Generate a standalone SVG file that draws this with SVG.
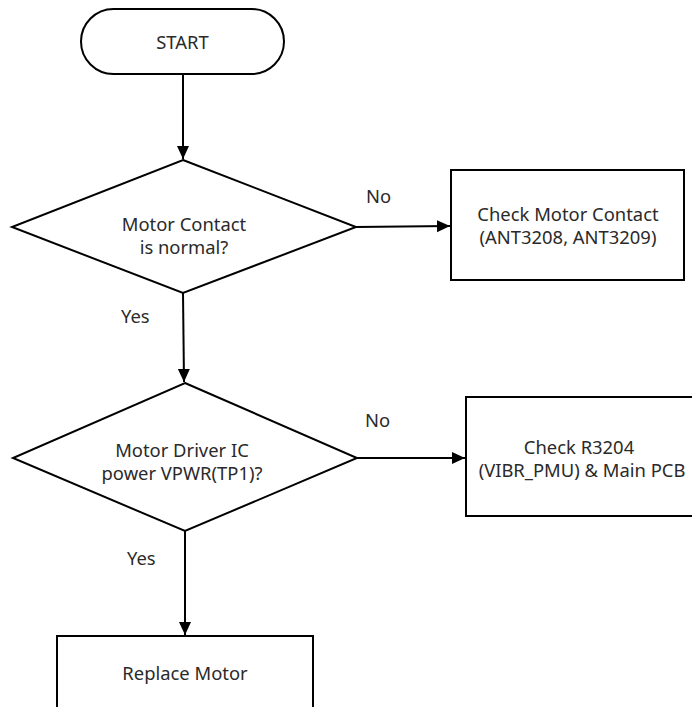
<svg xmlns="http://www.w3.org/2000/svg" width="692" height="707" viewBox="0 0 692 707">
<style>
.s{fill:#fff;stroke:#000;stroke-width:2}
.t{font-family:"Noto Sans","Open Sans","DejaVu Sans",sans-serif;font-size:18.4px;fill:#2a2a2a;text-anchor:middle}
.l{font-family:"Noto Sans","Open Sans","DejaVu Sans",sans-serif;font-size:18.4px;fill:#2a2a2a}
.c{fill:none;stroke:#000;stroke-width:2}
</style>
<defs>
<marker id="ah" markerUnits="userSpaceOnUse" markerWidth="14" markerHeight="14" refX="13" refY="6" orient="auto">
<path d="M0,0 L13,6 L0,12 z" fill="#000"/>
</marker>
</defs>
<rect width="692" height="707" fill="#fff"/>
<g id="start">
<rect class="s" x="81" y="9" width="203" height="65" rx="32.5" ry="32.5"/>
<text class="t" x="182.5" y="49">START</text>
</g>
<g id="decision1">
<polygon class="s" points="183,160 356,227 183,293 12,227"/>
<text class="t" x="184" y="231"><tspan x="184">Motor Contact</tspan><tspan x="184" dy="23">is normal?</tspan></text>
</g>
<g id="box1">
<rect class="s" x="451" y="170" width="233" height="110"/>
<text class="t" x="568" y="221"><tspan x="568">Check Motor Contact</tspan><tspan x="568" dy="23">(ANT3208, ANT3209)</tspan></text>
</g>
<g id="decision2">
<polygon class="s" points="185,383 357,458 185,531 13,458"/>
<text class="t" x="182" y="457"><tspan x="182">Motor Driver IC</tspan><tspan x="182" dy="23">power VPWR(TP1)?</tspan></text>
</g>
<g id="box2">
<rect class="s" x="466" y="397" width="236" height="119"/>
<text class="t" x="579" y="454"><tspan x="579">Check R3204</tspan><tspan x="582" dy="23">(VIBR_PMU) &amp; Main PCB</tspan></text>
</g>
<g id="box3">
<rect class="s" x="57" y="636" width="256" height="90"/>
<text class="t" x="185" y="680">Replace Motor</text>
</g>
<g id="connectors">
<line class="c" x1="183" y1="74" x2="183" y2="159" marker-end="url(#ah)"/>
<line class="c" x1="183" y1="293" x2="184" y2="382" marker-end="url(#ah)"/>
<line class="c" x1="185" y1="531" x2="185" y2="635" marker-end="url(#ah)"/>
<line class="c" x1="356" y1="227" x2="450" y2="226" marker-end="url(#ah)"/>
<line class="c" x1="357" y1="458" x2="465" y2="458" marker-end="url(#ah)"/>
<text class="l" x="366" y="203">No</text>
<text class="l" x="121" y="323">Yes</text>
<text class="l" x="365" y="427">No</text>
<text class="l" x="127" y="565">Yes</text>
</g>
</svg>
